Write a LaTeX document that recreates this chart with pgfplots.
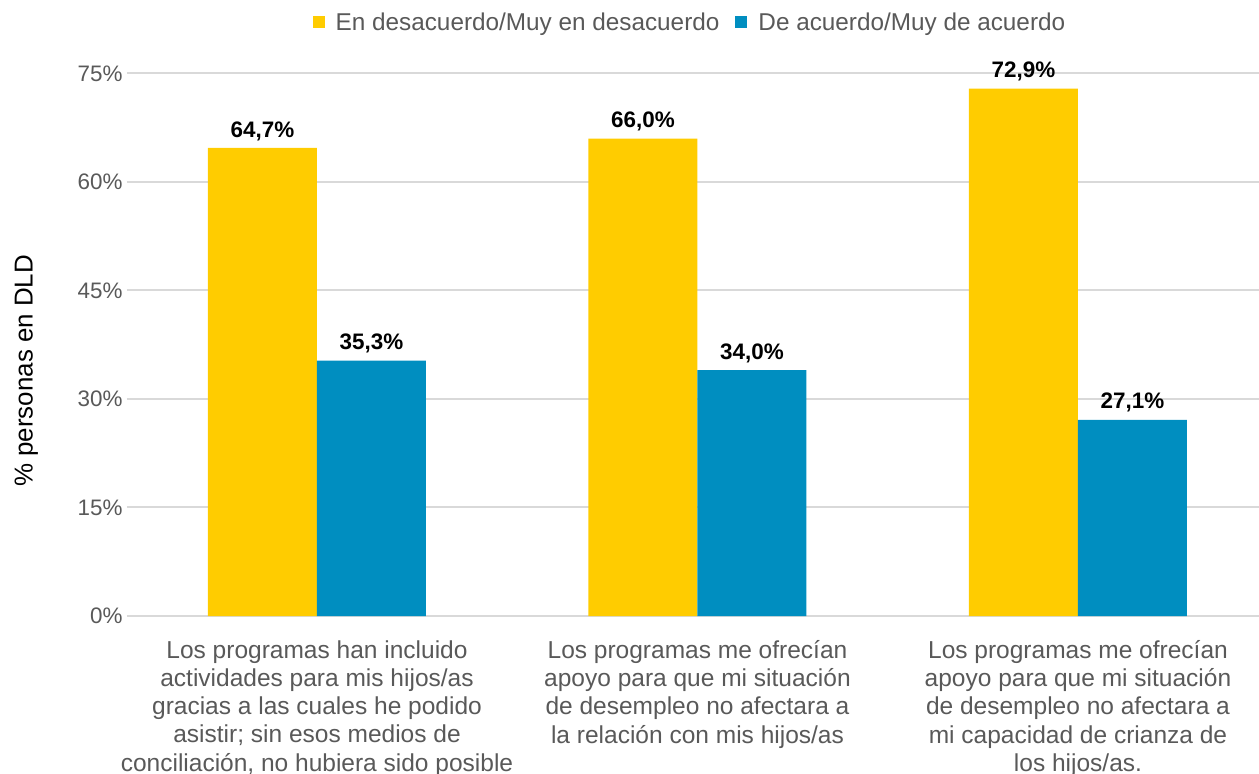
\documentclass[border=0pt]{standalone}
\usepackage{pgfplots}
\pgfplotsset{compat=1.18}
\usepackage{fontspec}
\setmainfont{Liberation Sans}
\definecolor{cy}{RGB}{255,204,0}
\definecolor{cb}{RGB}{0,142,192}
\definecolor{tg}{RGB}{89,89,89}
\definecolor{gl}{RGB}{217,217,217}
\begin{document}
\begin{tikzpicture}
\path[use as bounding box] (0,0) rectangle (1259bp,774bp);
\begin{axis}[
 at={(126.75bp,158bp)}, anchor=south west,
 scale only axis, width=1141.5bp, height=542.5bp,
 xmin=-0.5, xmax=2.5, ymin=0, ymax=75,
 ybar=0pt, bar width=109bp,
 axis line style={draw=none},
 major tick length=0pt,
 /pgf/number format/assume math mode=true,
 ytick={0,15,...,75},
 yticklabel={\pgfmathprintnumber{\tick}\%},
 yticklabel style={font=\fontsize{22.5}{26}\selectfont, text=tg, inner sep=2bp, xshift=-2bp},
 ymajorgrids, grid style={gl, line width=2bp},
 xtick={0,1,2},
 xticklabels={{Los programas han incluido\\actividades para mis hijos/as\\gracias a las cuales he podido\\asistir; sin esos medios de\\conciliación, no hubiera sido posible},
 {Los programas me ofrecían\\apoyo para que mi situación\\de desempleo no afectara a\\la relación con mis hijos/as},
 {Los programas me ofrecían\\apoyo para que mi situación\\de desempleo no afectara a\\mi capacidad de crianza de\\los hijos/as.}},
 xticklabel style={align=center, font=\fontsize{24.6}{28.3}\selectfont, text=tg, yshift=-21bp},
 ylabel={\% personas en DLD},
 ylabel style={at={(axis description cs:-0.088,0.5)}, anchor=center, yshift=0bp, xshift=-26bp, font=\fontsize{26}{30}\selectfont, text=black},
 legend style={at={(0.4934,1.095)}, anchor=center, draw=none, legend columns=2,
   font=\fontsize{24.4}{28}\selectfont, text=tg,
   /tikz/every odd column/.append style={column sep=9bp},
   /tikz/every even column/.append style={column sep=14bp}},
 legend image code/.code={\fill[#1] (0bp,-6bp) rectangle (12bp,6bp);},
 nodes near coords={\pgfmathprintnumber[fixed,fixed zerofill,precision=1,use comma]{\pgfplotspointmeta}\%},
 every node near coord/.append style={font=\bfseries\fontsize{22.5}{26}\selectfont, text=black, yshift=4bp},
 clip=false,
]
\addplot[fill=cy, draw=none] coordinates {(0,64.7) (1,66.0) (2,72.9)};
\addlegendentry{En desacuerdo/Muy en desacuerdo}
\addplot[fill=cb, draw=none] coordinates {(0,35.3) (1,34.0) (2,27.1)};
\addlegendentry{De acuerdo/Muy de acuerdo}
\end{axis}
\end{tikzpicture}
\end{document}
